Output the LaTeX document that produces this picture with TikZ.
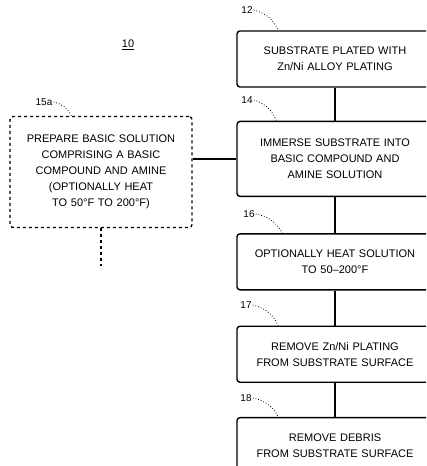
\documentclass[tikz,border=0pt]{standalone}
\usepackage{fontspec}
\setmainfont{Liberation Sans}
\usepackage{tikz}
\usetikzlibrary{positioning,calc}

\begin{document}
\begin{tikzpicture}[
x=1pt, y=-1pt,
stepbox/.style={
draw,
line width=1.4pt,
rounded corners=3pt,
minimum width=196pt,
text width=182pt,
minimum height=56pt,
align=center,
font=\fontsize{11}{16}\selectfont
},
optbox/.style={
stepbox,
dashed,
minimum width=182pt,
text width=170pt,
minimum height=111pt
},
flow/.style={
line width=1.4pt
},
refnum/.style={
font=\fontsize{10}{12}\selectfont,
inner sep=1pt
},
leader/.style={
line width=0.8pt,
dotted
}
]
\useasboundingbox (0,0) rectangle (426,466);
\clip (0,0) rectangle (426,466);

\node[stepbox] (plated) at (335,59) {SUBSTRATE PLATED WITH\\ Zn/Ni ALLOY PLATING};
\node[stepbox, minimum height=75pt, below=33pt of plated] (immerse) {IMMERSE SUBSTRATE INTO\\ BASIC COMPOUND AND\\ AMINE SOLUTION};
\node[stepbox, below=36pt of immerse] (heat) {OPTIONALLY HEAT SOLUTION\\ TO 50--200\textdegree F};
\node[stepbox, below=35pt of heat] (strip) {REMOVE Zn/Ni PLATING\\ FROM SUBSTRATE SURFACE};
\node[stepbox, below=34pt of strip] (debris) {REMOVE DEBRIS\\ FROM SUBSTRATE SURFACE};

\node[optbox] (prepare) at (101,172) {PREPARE BASIC SOLUTION\\ COMPRISING A BASIC\\ COMPOUND AND AMINE\\ (OPTIONALLY HEAT\\ TO 50\textdegree F TO 200\textdegree F)};

\node[font=\fontsize{11}{13}\selectfont] (fig) at (128,45) {\underline{10}};

% reference numerals
\node[refnum] (n12) at (247,10) {12};
\node[refnum] (n14) at (247,100) {14};
\node[refnum] (n16) at (249,214) {16};
\node[refnum] (n17) at (246,305) {17};
\node[refnum] (n18) at (246,398) {18};
\node[refnum] (n15) at (44,102) {15a};

\draw[leader] (n12.east) to[bend left=25] ($(plated.north west)+(42,0)$);
\draw[leader] (n14.east) to[bend left=25] ($(immerse.north west)+(40,0)$);
\draw[leader] (n16.east) to[bend left=25] ($(heat.north west)+(46,0)$);
\draw[leader] (n17.east) to[bend left=25] ($(strip.north west)+(42,0)$);
\draw[leader] (n18.east) to[bend left=25] ($(debris.north west)+(42,0)$);
\draw[leader] (n15.east) to[bend left=25] ($(prepare.north west)+(62,0)$);

% connectors
\draw[flow] (plated) -- (immerse);
\draw[flow] (immerse) -- (heat);
\draw[flow] (heat) -- (strip);
\draw[flow] (strip) -- (debris);
\draw[flow] (immerse.west) -- (immerse.west -| prepare.east);
\coordinate (more) at ($(prepare.south)+(0,38)$);
\draw[flow, dashed] (prepare) -- (more);

\end{tikzpicture}
\end{document}
